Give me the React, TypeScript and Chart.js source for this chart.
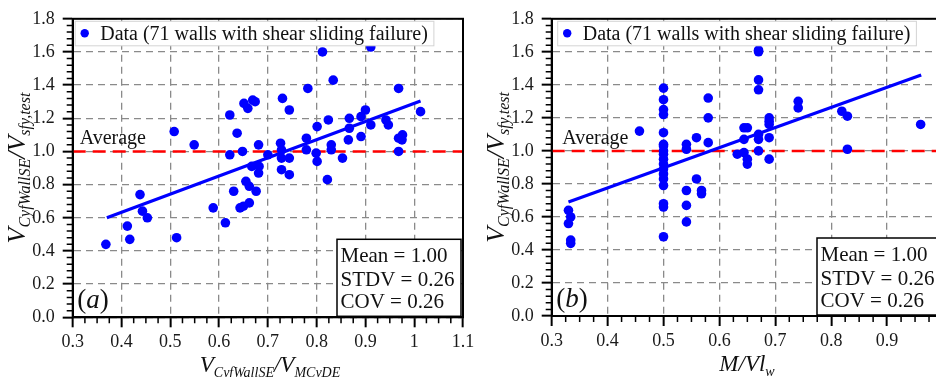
import React, { useEffect, useRef } from 'react';
import { Chart, registerables } from 'chart.js';

Chart.register(...registerables);

const SERIES_LABEL = 'Data (71 walls with shear sliding failure)';
const AVG_LABEL = 'Average';
const STATS_LINES = ['Mean = 1.00', 'STDV = 0.26', 'COV = 0.26'];

// Panel (a): V_CyfWallSE / V_MCyDE  vs  V_CyfWallSE / V_sfy,test
const xA = [0.368, 0.412, 0.417, 0.438, 0.443, 0.453, 0.508, 0.513, 0.549, 0.588, 0.613, 0.622, 0.622, 0.630, 0.637, 0.643, 0.648, 0.650, 0.651, 0.655, 0.659, 0.662, 0.662, 0.667, 0.669, 0.674, 0.676, 0.681, 0.682, 0.681, 0.700, 0.726, 0.728, 0.728, 0.728, 0.730, 0.744, 0.744, 0.744, 0.779, 0.779, 0.782, 0.799, 0.801, 0.801, 0.812, 0.822, 0.824, 0.830, 0.830, 0.834, 0.853, 0.865, 0.867, 0.867, 0.891, 0.891, 0.900, 0.911, 0.911, 0.942, 0.947, 0.968, 0.968, 0.968, 0.976, 0.975, 1.013];
const yA = [0.44, 0.55, 0.47, 0.74, 0.64, 0.60, 1.12, 0.48, 1.04, 0.66, 0.57, 1.22, 0.98, 0.76, 1.11, 0.66, 1.00, 0.67, 1.29, 0.82, 1.26, 0.69, 0.79, 0.91, 1.31, 1.30, 0.76, 1.04, 0.91, 0.87, 0.98, 1.05, 1.01, 0.96, 0.89, 1.32, 1.25, 0.96, 0.86, 1.08, 1.01, 1.38, 0.99, 0.94, 1.15, 1.60, 0.83, 1.19, 1.04, 1.01, 1.43, 0.96, 1.07, 1.20, 1.14, 1.21, 1.09, 1.25, 1.16, 1.63, 1.19, 1.16, 1.38, 1.08, 1.00, 1.10, 1.07, 1.24];
const fitAx = [0.37, 1.013];
const fitAy = [0.60, 1.305];

// Panel (b): M/Vl_w  vs  V_CyfWallSE / V_sfy,test
const xB = [0.33, 0.334, 0.33, 0.334, 0.334, 0.457, 0.5, 0.5, 0.5, 0.5, 0.5, 0.5, 0.5, 0.5, 0.5, 0.5, 0.5, 0.5, 0.5, 0.5, 0.5, 0.5, 0.5, 0.5, 0.541, 0.541, 0.541, 0.541, 0.541, 0.559, 0.559, 0.568, 0.568, 0.58, 0.58, 0.58, 0.632, 0.644, 0.644, 0.644, 0.65, 0.65, 0.65, 0.67, 0.67, 0.67, 0.67, 0.67, 0.67, 0.67, 0.689, 0.689, 0.689, 0.689, 0.689, 0.741, 0.741, 0.819, 0.829, 0.829, 0.96];
const yB = [0.64, 0.60, 0.56, 0.46, 0.44, 1.12, 1.38, 1.31, 1.25, 1.22, 1.11, 1.04, 1.03, 1.00, 0.98, 0.95, 0.92, 0.89, 0.86, 0.83, 0.79, 0.68, 0.66, 0.48, 1.04, 1.01, 0.76, 0.67, 0.57, 1.08, 0.83, 0.76, 0.74, 1.32, 1.20, 1.05, 0.98, 1.14, 1.07, 0.99, 1.14, 0.95, 0.92, 1.61, 1.60, 1.43, 1.37, 1.10, 1.07, 1.00, 1.20, 1.18, 1.16, 1.08, 0.95, 1.30, 1.26, 1.24, 1.21, 1.01, 1.16];
const fitBx = [0.33, 0.961];
const fitBy = [0.69, 1.46];

const AVG_Y = 1.0;
const yTicks = [0, 0.2, 0.4, 0.6, 0.8, 1.0, 1.2, 1.4, 1.6, 1.8];
const xTicksA = [0.3, 0.4, 0.5, 0.6, 0.7, 0.8, 0.9, 1.0, 1.1];
const xTicksB = [0.3, 0.4, 0.5, 0.6, 0.7, 0.8, 0.9, 1.0];

const SERIF = '"Liberation Serif", "Times New Roman", serif';

type Part = { t: string; sub?: boolean };
type Sizes = { main: number; sub: number; drop: number };

const yTitleParts: Part[] = [
  { t: 'V' }, { t: 'CyfWallSE', sub: true }, { t: '/' }, { t: 'V' }, { t: 'sfy,test', sub: true },
];
const xTitleA: Part[] = [
  { t: 'V' }, { t: 'CyfWallSE', sub: true }, { t: '/' }, { t: 'V' }, { t: 'MCyDE', sub: true },
];
const xTitleB: Part[] = [{ t: 'M/Vl' }, { t: 'w', sub: true }];

const X_TITLE_SIZES: Sizes = { main: 23, sub: 14, drop: 5 };
const Y_TITLE_SIZES: Sizes = { main: 26, sub: 16, drop: 5 };

function partFont(p: Part, s: Sizes) {
  return `italic ${p.sub ? s.sub : s.main}px ${SERIF}`;
}
function richWidth(ctx: CanvasRenderingContext2D, parts: Part[], s: Sizes) {
  let w = 0;
  for (const p of parts) {
    ctx.font = partFont(p, s);
    w += ctx.measureText(p.t).width;
  }
  return w;
}
function drawRich(ctx: CanvasRenderingContext2D, parts: Part[], x: number, y: number, s: Sizes) {
  let cx = x;
  ctx.textAlign = 'left';
  ctx.textBaseline = 'alphabetic';
  for (const p of parts) {
    ctx.font = partFont(p, s);
    ctx.fillText(p.t, cx, p.sub ? y + s.drop : y);
    cx += ctx.measureText(p.t).width;
  }
}

type PanelCfg = {
  xs: number[];
  ys: number[];
  fx: number[];
  fy: number[];
  xMax: number;
  xTicks: number[];
  letter: string;
  xTitle: Part[];
  canvasW: number;
  areaLeft: number;
  areaTop: number;
  areaBottom: number;
  areaRight: number;
  yTitleX: number;
  xTitleY: number;
  xTitleCx: number;
  boxOff: number;
};

function makePlugin(cfg: PanelCfg) {
  return {
    id: 'decor' + cfg.letter,
    afterDatasetsDraw(chart: any) {
      const ctx: CanvasRenderingContext2D = chart.ctx;
      const a = chart.chartArea;
      const xs = chart.scales.x;
      const ys = chart.scales.y;
      ctx.save();
      // frame
      ctx.strokeStyle = '#000';
      ctx.lineWidth = 2;
      ctx.setLineDash([]);
      ctx.strokeRect(a.left, a.top, a.right - a.left, a.bottom - a.top);

      // minor ticks
      ctx.lineWidth = 1.5;
      ctx.beginPath();
      for (let i = 0; i <= Math.round((cfg.xMax - 0.3) / 0.025); i++) {
        if (i % 4 === 0) continue;
        const px = xs.getPixelForValue(0.3 + i * 0.025);
        ctx.moveTo(px, a.bottom);
        ctx.lineTo(px, a.bottom + 6);
      }
      for (let i = 0; i <= 45; i++) {
        if (i % 5 === 0) continue;
        const py = ys.getPixelForValue(i * 0.04);
        ctx.moveTo(a.left - 6, py);
        ctx.lineTo(a.left, py);
      }
      ctx.stroke();

      // legend box
      const lx = a.left + cfg.boxOff;
      const ly = a.top + 2.5;
      ctx.font = `20px ${SERIF}`;
      const tw = ctx.measureText(SERIES_LABEL).width;
      ctx.fillStyle = '#fff';
      ctx.fillRect(lx, ly, tw + 31, 24.5);
      ctx.strokeStyle = '#d4d4d4';
      ctx.lineWidth = 1;
      ctx.strokeRect(lx, ly, tw + 31, 24.5);
      ctx.fillStyle = chart.data.datasets[0].backgroundColor;
      ctx.beginPath();
      ctx.arc(lx + 9.5, ly + 12, 4.2, 0, Math.PI * 2);
      ctx.fill();
      ctx.fillStyle = '#111';
      ctx.textAlign = 'left';
      ctx.textBaseline = 'alphabetic';
      ctx.fillText(SERIES_LABEL, lx + 25, ly + 18.5);

      // Average
      ctx.font = `20px ${SERIF}`;
      ctx.fillText(AVG_LABEL, a.left + cfg.boxOff + 4.5, ys.getPixelForValue(AVG_Y) - 7);

      // stats box
      const bw = 124;
      const bh = 77;
      const bx = a.right - 2 - bw;
      const by = a.bottom - 1 - bh;
      ctx.fillStyle = '#fff';
      ctx.fillRect(bx, by, bw, bh);
      ctx.strokeStyle = '#000';
      ctx.lineWidth = 1.5;
      ctx.strokeRect(bx, by, bw, bh);
      ctx.fillStyle = '#111';
      ctx.font = `21px ${SERIF}`;
      const offs = [55.5, 31, 9];
      STATS_LINES.forEach((s, i) => ctx.fillText(s, bx + 3.5, a.bottom - offs[i]));

      // panel letter
      const ly2 = a.bottom - 9.5;
      let cx = a.left + 4.5;
      ctx.font = `27px ${SERIF}`;
      ctx.fillText('(', cx, ly2);
      cx += ctx.measureText('(').width;
      ctx.font = `italic 27px ${SERIF}`;
      ctx.fillText(cfg.letter, cx, ly2);
      cx += ctx.measureText(cfg.letter).width;
      ctx.font = `27px ${SERIF}`;
      ctx.fillText(')', cx, ly2);

      // axis titles
      ctx.fillStyle = '#111';
      const xw = richWidth(ctx, cfg.xTitle, X_TITLE_SIZES);
      drawRich(ctx, cfg.xTitle, cfg.xTitleCx - xw / 2, cfg.xTitleY, X_TITLE_SIZES);
      const yw = richWidth(ctx, yTitleParts, Y_TITLE_SIZES);
      ctx.translate(cfg.yTitleX, (a.top + a.bottom) / 2);
      ctx.rotate(-Math.PI / 2);
      drawRich(ctx, yTitleParts, -yw / 2, 0, Y_TITLE_SIZES);
      ctx.restore();
    },
  };
}

function buildChart(canvas: HTMLCanvasElement, cfg: PanelCfg) {
  const pts = cfg.xs.map((x, i) => ({ x, y: cfg.ys[i] }));
  const fit = cfg.fx.map((x, i) => ({ x, y: cfg.fy[i] }));
  const avg = [{ x: 0.3, y: AVG_Y }, { x: cfg.xMax, y: AVG_Y }];
  const fmt = (v: number) => String(Math.round(v * 10) / 10);
  return new Chart(canvas, {
    type: 'scatter',
    data: {
      datasets: [
        { label: SERIES_LABEL, data: pts, backgroundColor: '#0000ff', borderWidth: 0, pointRadius: 4.8, order: 0 },
        { label: 'fit', data: fit, showLine: true, borderColor: '#0000ff', borderWidth: 3.2, pointRadius: 0, order: 1 },
        { label: 'avg', data: avg, showLine: true, borderColor: '#ff0000', borderWidth: 2.5, borderDash: [13, 7], pointRadius: 0, order: 2 },
      ],
    } as any,
    options: {
      animation: false,
      responsive: false,
      events: [],
      layout: {
        padding: { left: 0, top: cfg.areaTop, right: cfg.canvasW - cfg.areaRight, bottom: 0 },
      },
      plugins: { legend: { display: false }, tooltip: { enabled: false } },
      scales: {
        x: {
          type: 'linear',
          min: 0.3,
          max: cfg.xMax,
          afterBuildTicks: (s: any) => { s.ticks = cfg.xTicks.map((v) => ({ value: v })); },
          afterFit: (s: any) => { s.height = 377 - cfg.areaBottom; },
          ticks: { callback: (v: any) => fmt(Number(v)), font: { family: SERIF, size: 18 }, color: '#1a1a1a', padding: 4, maxRotation: 0, autoSkip: false },
          grid: { color: '#8a8a8a', lineWidth: 1.3, tickColor: '#000', tickWidth: 2, tickLength: 10, tickBorderDash: [] },
          border: { display: true, color: '#000', width: 2, dash: [7, 5] },
        },
        y: {
          type: 'linear',
          min: 0,
          max: 1.8,
          afterBuildTicks: (s: any) => { s.ticks = yTicks.map((v) => ({ value: v })); },
          afterFit: (s: any) => { s.width = cfg.areaLeft; },
          ticks: { callback: (v: any) => Number(v).toFixed(1), font: { family: SERIF, size: 18 }, color: '#1a1a1a', padding: 8 },
          grid: { color: '#8a8a8a', lineWidth: 1.3, tickColor: '#000', tickWidth: 2, tickLength: 10, tickBorderDash: [] },
          border: { display: true, color: '#000', width: 2, dash: [7, 5] },
        },
      },
    } as any,
    plugins: [makePlugin(cfg)],
  });
}

const cfgA: PanelCfg = {
  xs: xA, ys: yA, fx: fitAx, fy: fitAy, xMax: 1.1, xTicks: xTicksA, letter: 'a', xTitle: xTitleA,
  canvasW: 480, areaLeft: 72.7, areaTop: 16.7, areaBottom: 317.3, areaRight: 463,
  yTitleX: 25, xTitleY: 372, xTitleCx: 270, boxOff: 2.5,
};
const cfgB: PanelCfg = {
  xs: xB, ys: yB, fx: fitBx, fy: fitBy, xMax: 1.0, xTicks: xTicksB, letter: 'b', xTitle: xTitleB,
  canvasW: 490, areaLeft: 81.7, areaTop: 15.3, areaBottom: 316, areaRight: 473,
  yTitleX: 34, xTitleY: 371, xTitleCx: 277, boxOff: 6,
};

function Panel({ cfg, left }: { cfg: PanelCfg; left: number }) {
  const ref = useRef<HTMLCanvasElement>(null);
  useEffect(() => {
    if (!ref.current) return;
    const c = buildChart(ref.current, cfg);
    return () => c.destroy();
  }, [cfg]);
  return (
    <canvas
      ref={ref}
      width={cfg.canvasW}
      height={377}
      style={{ position: 'absolute', left, top: 0, width: cfg.canvasW, height: 377 }}
    />
  );
}

export default function App() {
  return (
    <div style={{ position: 'fixed', left: 0, top: 0, width: 936, height: 377, overflow: 'hidden', background: '#fff' }}>
      <Panel cfg={cfgA} left={0} />
      <Panel cfg={cfgB} left={470} />
    </div>
  );
}
